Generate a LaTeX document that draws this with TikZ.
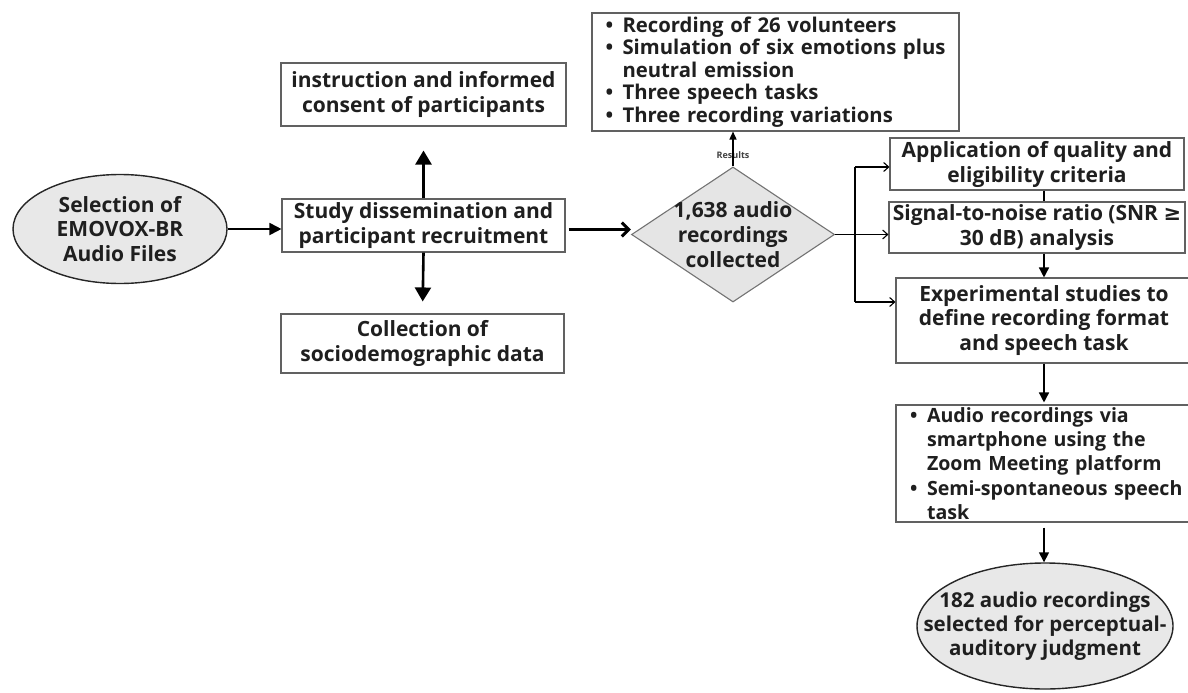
\documentclass[tikz,border=0pt]{standalone}
\usepackage{fontspec}
\setmainfont{Open Sans}
\newfontfamily\dejavu{DejaVu Sans}
\usetikzlibrary{arrows.meta,shapes.geometric}
\newcommand{\bulitem}{\makebox[17pt][l]{\textbullet}}
\newcommand{\bulcont}{\hspace*{17pt}}
\begin{document}
\begin{tikzpicture}[x=1pt,y=-1pt,
  box/.style={draw=black!62,line width=1.1pt,fill=white,inner sep=0pt,align=center,
    font=\bfseries\fontsize{21}{25}\selectfont,text=black!88},
  oval/.style={ellipse,draw=black!85,line width=1.4pt,fill=black!9,inner sep=0pt,align=center,
    font=\bfseries\fontsize{21}{24.5}\selectfont,text=black!88},
  rhomb/.style={diamond,draw=black!55,line width=1.1pt,fill=black!10,inner sep=0pt},
  inlabel/.style={align=center,font=\bfseries\fontsize{21}{25}\selectfont,text=black!88},
  bigarrow/.style={-{Triangle[length=14pt,width=16pt]},line width=2.6pt},
  midarrow/.style={-{Triangle[length=12pt,width=12pt]},line width=1.8pt},
  wideBarb/.style={-{Straight Barb[length=7pt,width=14pt]},line width=3pt},
  thinBarb/.style={-{Straight Barb[length=5pt,width=9pt]},line width=1.1pt},
  downarrow/.style={-{Triangle[length=10pt,width=10pt]},line width=1.5pt}
]
\useasboundingbox (0,0) rectangle (1188,693);
\clip (0,0) rectangle (1188,693);

% left part
\node[oval,minimum width=214,minimum height=109] (sel) at (120,229)
  {Selection of\\EMOVOX-BR\\Audio Files};
\node[box,minimum width=283,minimum height=53] (study) at (423.5,225.5)
  {Study dissemination and\\participant recruitment};
\node[box,minimum width=285,minimum height=63] (instr) at (423.5,94.5)
  {instruction and informed\\consent of participants};
\node[box,minimum width=283,minimum height=59] (coll) at (422.5,343.5)
  {Collection of\\sociodemographic data};

% diamond
\node[rhomb,minimum width=203,minimum height=135,
  label={[inlabel]center:1,638 audio\\recordings\\collected}] (dia) at (733,234.5) {};

% top results box
\node[box,minimum width=367,minimum height=118,align=left,text width=340,
  font=\bfseries\fontsize{20.3}{22.4}\selectfont] (res) at (775.5,72)
  {\bulitem Recording of 26 volunteers\\
   \bulitem Simulation\hfill of\hfill six\hfill emotions\hfill plus\\
   \bulcont neutral emission\\
   \bulitem Three speech tasks\\
   \bulitem Three recording variations};
\node[font=\bfseries\fontsize{9}{10}\selectfont,text=black!75] (reslab) at (733,155) {Results};

% right column
\node[box,minimum width=294,minimum height=52] (app) at (1037,164)
  {Application of quality and\\eligibility criteria};
\node[box,minimum width=296,minimum height=51] (sig) at (1037,227.5)
  {Signal-to-noise ratio (SNR {\dejavu\bfseries ≥}\\30 dB) analysis};
\node[box,minimum width=296,minimum height=85,font=\bfseries\fontsize{21}{24.5}\selectfont] (exp) at (1044,320.5)
  {Experimental studies to\\define recording format\\and speech task};
\node[box,minimum height=117,align=left,text width=300,inner xsep=14pt,
  font=\bfseries\fontsize{19.6}{24.3}\selectfont] (bul) at (1060,463.5)
  {\bulitem Audio recordings via\\
   \bulcont smartphone using the\\
   \bulcont Zoom Meeting platform\\
   \bulitem Semi-spontaneous speech\\
   \bulcont task};
\node[oval,minimum width=256,minimum height=126,
  label={[inlabel,font=\bfseries\fontsize{20.5}{24}\selectfont]center:182 audio recordings\\selected for perceptual-\\auditory judgment}] (fin) at (1045,626) {};

% connectors left
\draw[midarrow] (sel.east) -- (sel.east -| study.west);
\draw[bigarrow,shorten >=24pt] (study.north) -- (instr.south);
\draw[bigarrow,shorten >=12pt] (study.south) -- (coll.north);
\draw[wideBarb,shorten <=3pt] ([yshift=-4pt]study.east) -- ([yshift=-4pt]study.east -| dia.west);
\draw[-{Triangle[length=8pt,width=7pt]},line width=1.5pt] (dia.north) -- (dia.north |- res.south);

% right branch
\coordinate (jn) at (855,234.5);
\coordinate (jtop) at (855,167);
\coordinate (jbot) at (855,302);
\draw[line width=1.1pt] (dia.east) -- (jn);
\draw[line width=1.1pt] (jtop) -- (jbot);
\draw[thinBarb] (jtop) -- (jtop -| app.west);
\draw[thinBarb] (jn) -- (jn -| sig.west);
\draw[thinBarb] (jbot) -- (jbot -| exp.west);

% right column vertical links
\draw[line width=1.3pt] (app.south -| exp.north) -- (sig.north -| exp.north);
\draw[downarrow] (sig.south -| exp.north) -- (exp.north);
\draw[downarrow,shorten >=2pt] (exp.south) -- (exp.south |- bul.north);
\draw[downarrow,shorten <=5pt] (exp.south |- bul.south) -- (exp.south |- fin.north);
\end{tikzpicture}
\end{document}
